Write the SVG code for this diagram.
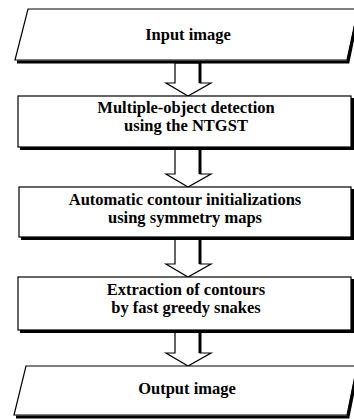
<svg xmlns="http://www.w3.org/2000/svg" width="354" height="419" viewBox="0 0 354 419">
<style>
.box{fill:#fff;stroke:#000;stroke-width:1.2}
.sh{stroke:#000;stroke-width:3;fill:none}
.t{font-family:"Liberation Serif","Times New Roman",serif;font-weight:bold;font-size:16.5px;text-anchor:middle;fill:#000}
.arr{fill:#fff;stroke:#000;stroke-width:1.2;stroke-linejoin:miter}
</style>
<rect width="354" height="419" fill="#fff"/>
<g id="connectors">
<g id="a1"><polygon class="arr" points="175,63 175,83 166,83 188,96 211,83 200,83 200,63"/><line class="sh" x1="200" y1="63" x2="200" y2="83"/></g>
<g id="a2"><polygon class="arr" points="175,149 175,174 166,174 188,187 211,174 200,174 200,149"/><line class="sh" x1="200" y1="149" x2="200" y2="174"/></g>
<g id="a3"><polygon class="arr" points="175,239 175,264 166,264 188,277 211,264 200,264 200,239"/><line class="sh" x1="200" y1="239" x2="200" y2="264"/></g>
<g id="a4"><polygon class="arr" points="175,332 175,353 166,353 188,366 211,353 200,353 200,332"/><line class="sh" x1="200" y1="332" x2="200" y2="353"/></g>
</g>
<g id="n1">
<polygon class="box" points="28,9 358,9 347,60 15,60"/>
<polyline class="sh" points="17,62 348,62 358,14"/>
<text class="t" x="188" y="40">Input image</text>
</g>
<g id="n2">
<rect class="box" x="18" y="96" width="333" height="51"/>
<polyline class="sh" points="20,148.5 352.5,148.5 352.5,98"/>
<text class="t" x="186" y="113">Multiple-object detection</text>
<text class="t" x="186" y="131">using the NTGST</text>
</g>
<g id="n3">
<rect class="box" x="19" y="187" width="332" height="50"/>
<polyline class="sh" points="21,238.5 352.5,238.5 352.5,189"/>
<text class="t" x="185" y="205">Automatic contour initializations</text>
<text class="t" x="185" y="223">using symmetry maps</text>
</g>
<g id="n4">
<rect class="box" x="18" y="277" width="333" height="53"/>
<polyline class="sh" points="20,331.5 352.5,331.5 352.5,279"/>
<text class="t" x="186" y="295">Extraction of contours</text>
<text class="t" x="186" y="313">by fast greedy snakes</text>
</g>
<g id="n5">
<polygon class="box" points="26,366 357,366 347,415 14,415"/>
<polyline class="sh" points="16,417 348,417 357,372"/>
<text class="t" x="187" y="394">Output image</text>
</g>
</svg>
